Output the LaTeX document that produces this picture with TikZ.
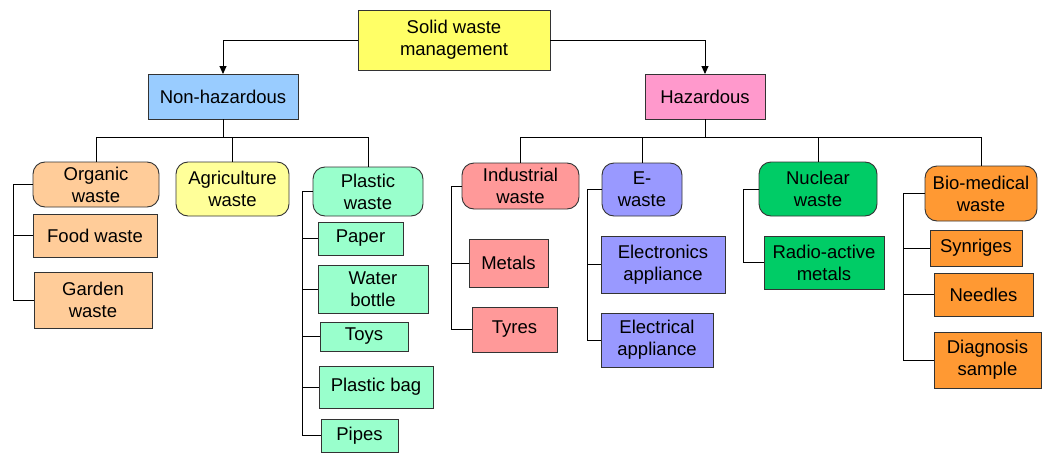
\documentclass[tikz,border=0pt]{standalone}
\usepackage{fontspec}
\setmainfont{Liberation Sans}
\usetikzlibrary{arrows.meta}

\definecolor{cSwm}{HTML}{FFFF66}
\definecolor{cNonHaz}{HTML}{99CCFF}
\definecolor{cHaz}{HTML}{FF99CC}
\definecolor{cOrganic}{HTML}{FFCC99}
\definecolor{cAgri}{HTML}{FFFF99}
\definecolor{cPlastic}{HTML}{99FFCC}
\definecolor{cIndus}{HTML}{FF9999}
\definecolor{cEwaste}{HTML}{9999FF}
\definecolor{cNuclear}{HTML}{00CC66}
\definecolor{cBio}{HTML}{FF9933}
\definecolor{cEdge}{HTML}{333333}

\tikzset{
  box/.style={draw=cEdge, line width=0.9pt, align=center, inner sep=0pt,
    outer sep=0pt, font=\fontsize{18.5}{22}\selectfont, text=black},
  catbox/.style={box, rounded corners=12pt},
  link/.style={draw=black, line width=0.9pt},
  arrowlink/.style={link, -{Triangle[length=8pt,width=7pt]}},
}

\newcommand{\wbox}[7]{% style, name, cx, cy, w, h, text
  \node[#1, minimum width=#5pt, minimum height=#6pt] (#2) at (#3,#4) {#7};}

\begin{document}
\begin{tikzpicture}[x=1pt,y=-1pt]
\useasboundingbox (0,0) rectangle (1042,455);

% root and the two main classes
\wbox{box, fill=cSwm}{swm}{454}{40}{192}{60}{Solid waste\\management}
\wbox{box, fill=cNonHaz}{nh}{223}{96.5}{150}{45}{Non-hazardous}
\wbox{box, fill=cHaz}{hz}{705}{96.5}{120}{45}{Hazardous}

% non-hazardous categories
\wbox{catbox, fill=cOrganic}{org}{96}{184.5}{126}{45}{Organic\\waste}
\wbox{catbox, fill=cAgri}{agr}{232.5}{189}{113}{54}{Agriculture\\waste}
\wbox{catbox, fill=cPlastic}{pla}{368}{191.5}{110}{49}{Plastic\\waste}

\wbox{box, fill=cOrganic}{food}{95}{235.5}{124}{43}{Food waste}
\wbox{box, fill=cOrganic}{gard}{93}{300}{118}{56}{Garden\\waste}

\wbox{box, fill=cPlastic}{paper}{360.5}{238.5}{85}{33}{Paper}
\wbox{box, fill=cPlastic}{water}{373}{289}{110}{48}{Water\\bottle}
\wbox{box, fill=cPlastic}{toys}{364}{336.5}{88}{29}{Toys}
\wbox{box, fill=cPlastic}{bag}{376}{387}{114}{42}{Plastic bag}
\wbox{box, fill=cPlastic}{pipes}{359.5}{435.5}{77}{33}{Pipes}

% hazardous categories
\wbox{catbox, fill=cIndus}{ind}{520.5}{186}{117}{46}{Industrial\\waste}
\wbox{catbox, fill=cEwaste}{ew}{642}{189.5}{80}{53}{E-\\waste}
\wbox{catbox, fill=cNuclear}{nuc}{818}{189}{118}{54}{Nuclear\\waste}
\wbox{catbox, fill=cBio}{bio}{981}{193.5}{112}{55}{Bio-medical\\waste}

\wbox{box, fill=cIndus}{metals}{508.5}{263}{79}{48}{Metals}
\wbox{box, fill=cIndus}{tyres}{514.5}{329.5}{85}{45}{Tyres}
\wbox{box, fill=cEwaste}{elec}{663}{264.5}{124}{57}{Electronics\\appliance}
\wbox{box, fill=cEwaste}{elct}{657}{340}{112}{54}{Electrical\\appliance}
\wbox{box, fill=cNuclear}{radio}{824}{262.5}{120}{53}{Radio-active\\metals}
\wbox{box, fill=cBio}{syn}{976}{248}{92}{36}{Synriges}
\wbox{box, fill=cBio}{need}{983.5}{294.5}{99}{43}{Needles}
\wbox{box, fill=cBio}{diag}{987.5}{360}{107}{56}{Diagnosis\\sample}

% root to main classes
\draw[arrowlink] (swm.west) -| (nh.north);
\draw[arrowlink] (swm.east) -| (hz.north);

% main classes to categories
\foreach \c in {org, agr, pla}
  \draw[link] (nh.south) -- ++(0,18) -| (\c.north);
\foreach \c in {ind, ew, nuc, bio}
  \draw[link] (hz.south) -- ++(0,18) -| (\c.north);

% categories to items (side buses)
\draw[link] (org.west) -- ++(-20,0) |- (gard.west);
\draw[link] (org.west) ++(-20,0) |- (food.west);

\draw[link] (pla.west) -- ++(-11,0) |- (pipes.west);
\foreach \c in {paper, water, toys, bag}
  \draw[link] (pla.west) ++(-11,0) |- (\c.west);

\draw[link] (ind.west) -- ++(-11,0) |- (tyres.west);
\draw[link] (ind.west) ++(-11,0) |- (metals.west);

\draw[link] (ew.west) -- ++(-15,0) |- (elct.west);
\draw[link] (ew.west) ++(-15,0) |- (elec.west);

\draw[link] (nuc.west) -- ++(-16,0) |- (radio.west);

\draw[link] (bio.west) -- ++(-22,0) |- (diag.west);
\foreach \c in {syn, need}
  \draw[link] (bio.west) ++(-22,0) |- (\c.west);
\end{tikzpicture}
\end{document}
